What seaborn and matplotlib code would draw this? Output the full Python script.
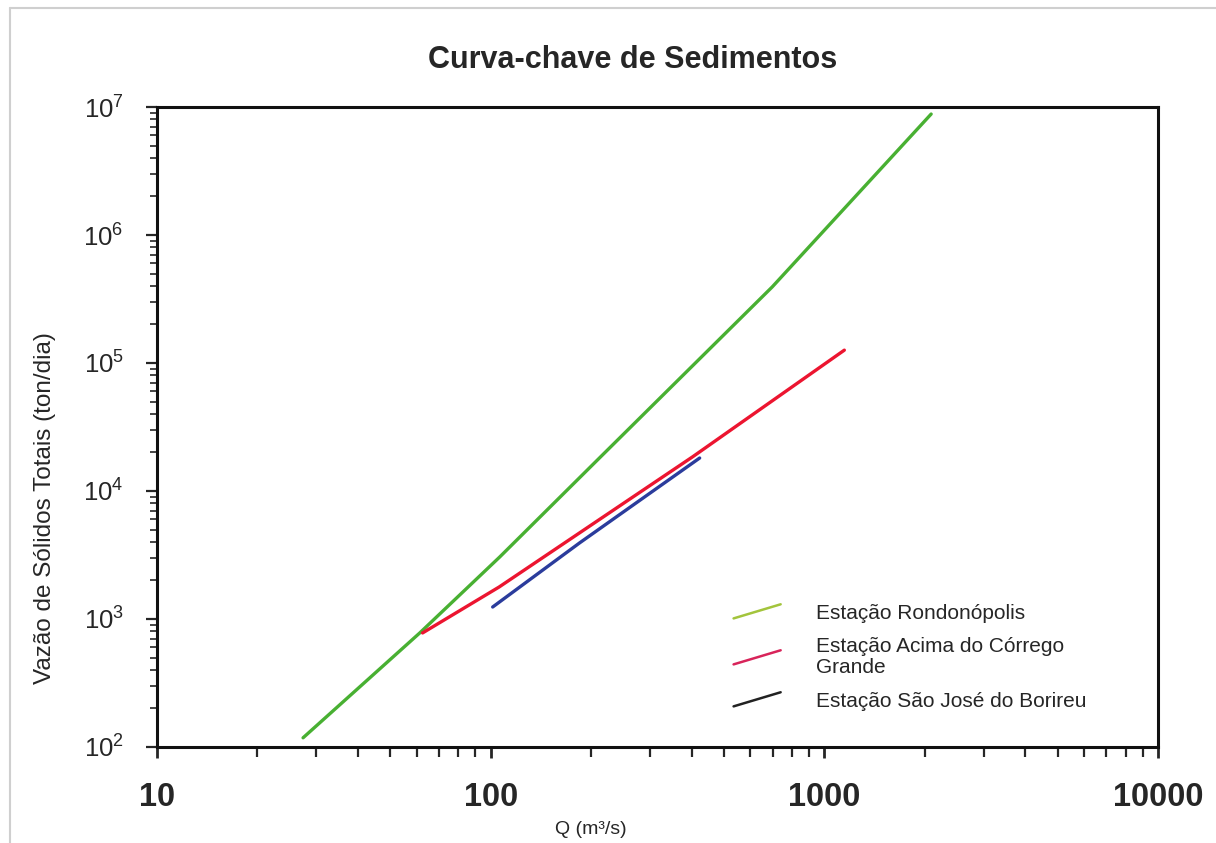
import numpy as np
import pandas as pd
import matplotlib
matplotlib.use("Agg")
import matplotlib.pyplot as plt
from matplotlib.lines import Line2D
from matplotlib.legend_handler import HandlerBase
from matplotlib.ticker import LogLocator, NullFormatter
import seaborn as sns

# Rating curves: discharge Q (m3/s) vs total sediment load (ton/day)
q_rondonopolis = [27.4, 61.3, 106.4, 211.8, 698.0, 2090.0]
qs_rondonopolis = [118.0, 778.0, 3048.0, 1.81e4, 3.93e5, 8.81e6]

q_acima = [62.5, 106.0, 403.0, 1148.0]
qs_acima = [778.0, 1778.0, 1.85e4, 1.26e5]

q_borireu = [101.4, 184.6, 423.0]
qs_borireu = [1241.0, 3926.0, 1.81e4]

station_names = ["Estação Rondonópolis",
                 "Estação Acima do Córrego\nGrande",
                 "Estação São José do Borireu"]
line_colors = ["#48b032", "#ec1530", "#2b3c9c"]
legend_colors = ["#a3c43c", "#d8245a", "#222222"]

x_ticks = [10, 100, 1000, 10000]
x_tick_labels = ["10", "100", "1000", "10000"]

frames = []
for name, q, qs in zip(station_names,
                       [q_rondonopolis, q_acima, q_borireu],
                       [qs_rondonopolis, qs_acima, qs_borireu]):
    frames.append(pd.DataFrame({"Q": q, "Qs": qs, "estacao": name}))
df = pd.concat(frames, ignore_index=True)

sns.set_style("ticks")
plt.rcParams["font.family"] = ["Liberation Sans", "DejaVu Sans"]
plt.rcParams["mathtext.default"] = "regular"

fig = plt.figure(figsize=(12.16, 8.43), dpi=100)
ax = fig.add_axes([157 / 1216, 96 / 843, 1001 / 1216, 640 / 843])

sns.lineplot(data=df, x="Q", y="Qs", hue="estacao", palette=line_colors,
             hue_order=station_names, estimator=None, sort=False,
             linewidth=2.4, legend=False, ax=ax)

ax.set_xscale("log")
ax.set_yscale("log")
ax.set_xlim(10, 10000)
ax.set_ylim(1e2, 1e7)

ax.set_xticks(x_ticks)
ax.set_xticklabels(x_tick_labels, fontsize=23.5, fontweight="bold")
ax.xaxis.set_minor_locator(LogLocator(base=10, subs=np.arange(2, 10)))
ax.xaxis.set_minor_formatter(NullFormatter())
ax.yaxis.set_major_locator(LogLocator(base=10, numticks=10))
ax.yaxis.set_minor_locator(LogLocator(base=10, subs=np.arange(2, 10), numticks=20))
ax.yaxis.set_minor_formatter(NullFormatter())

ax.tick_params(axis="x", which="major", direction="out", length=8, width=2,
               pad=17, top=False)
ax.tick_params(axis="x", which="minor", direction="out", length=7, width=1.6,
               top=False)
ax.tick_params(axis="y", which="major", direction="out", length=8, width=1.6,
               pad=16, right=False, labelsize=18.5)
ax.tick_params(axis="y", which="minor", direction="out", length=5, width=1.2,
               right=False)

for side in ["left", "right", "top", "bottom"]:
    ax.spines[side].set_visible(True)
    ax.spines[side].set_linewidth(2.2)
    ax.spines[side].set_color("#111111")

ax.set_xlabel("Q (m³/s)", fontsize=14)
ax.xaxis.set_label_coords(0.433, -0.115)
ax.set_ylabel("Vazão de Sólidos Totais (ton/dia)", fontsize=17.5)
ax.yaxis.set_label_coords(-0.101, 0.373)

fig.text(633 / 1216, 1 - 60 / 843, "Curva-chave de Sedimentos",
         ha="center", va="center", fontsize=22, fontweight="bold")


class SlantedLineHandler(HandlerBase):
    def create_artists(self, legend, orig_handle, xdescent, ydescent,
                       width, height, fontsize, trans):
        x0 = -xdescent
        x1 = -xdescent + width
        yc = -ydescent + height / 2
        rise = width * 0.3
        line = Line2D([x0, x1], [yc - rise / 2, yc + rise / 2],
                      color=orig_handle.get_color(),
                      linewidth=orig_handle.get_linewidth(),
                      transform=trans)
        return [line]


handles = [Line2D([], [], color=c, linewidth=1.8) for c in legend_colors]
leg = ax.legend(handles, station_names,
                handler_map={Line2D: SlantedLineHandler()},
                frameon=False, loc="upper left",
                bbox_to_anchor=(0.576, 0.224),
                fontsize=15, handlelength=2.26, handletextpad=1.7,
                labelspacing=0.7, borderpad=0, borderaxespad=0)
for t in leg.get_texts():
    t.set_linespacing(1.12)

# thin grey frame along the top and left edges
fig.add_artist(Line2D([10 / 1216, 1.0], [1 - 8 / 843, 1 - 8 / 843],
                      color="#cfcfcf", linewidth=1.5))
fig.add_artist(Line2D([10 / 1216, 10 / 1216], [0.0, 1 - 8 / 843],
                      color="#cfcfcf", linewidth=1.5))

fig.savefig("out.png", dpi=100)
